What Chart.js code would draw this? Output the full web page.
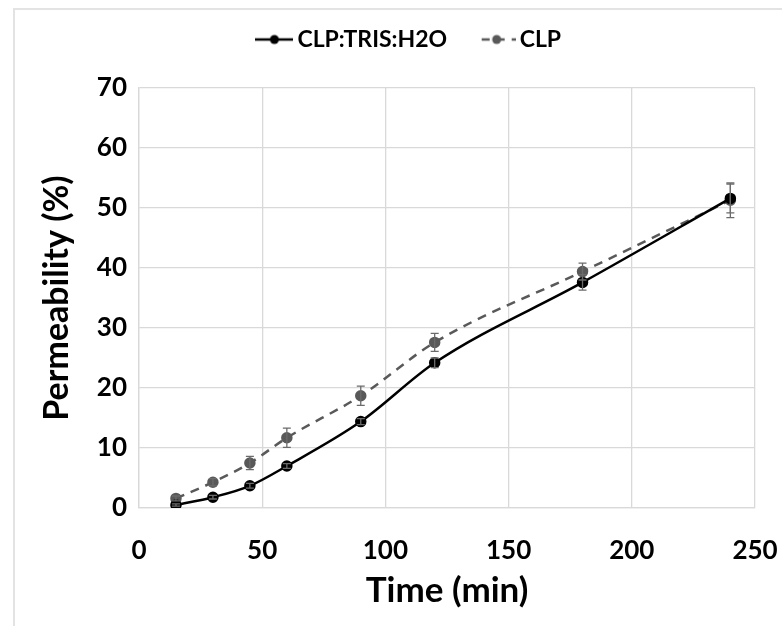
<!DOCTYPE html>
<html>
<head>
<meta charset="utf-8">
<script src="https://cdn.jsdelivr.net/npm/chart.js@4"></script>
<style>
  html, body { margin: 0; padding: 0; background: #fff; }
  #wrap { position: relative; width: 782px; height: 626px; }
  #frame { position: absolute; left: 13px; top: 8px; right: -2px; bottom: -2px;
           border-left: 2px solid #e3e3e3; border-top: 2px solid #e3e3e3; }
  canvas { position: absolute; left: 0; top: 0; }
</style>
</head>
<body>
<div id="wrap">
  <div id="frame"></div>
  <canvas id="permChart" width="782" height="626"></canvas>
</div>
<script>
// data
const times = [15, 30, 45, 60, 90, 120, 180, 240];
const trisValues = [0.5, 1.8, 3.7, 7.0, 14.4, 24.2, 37.6, 51.6];
const trisErrors = [0.2, 0.3, 0.4, 0.4, 0.5, 0.8, 1.3, 2.4];
const clpValues = [1.6, 4.3, 7.5, 11.7, 18.7, 27.6, 39.4, 51.3];
const clpErrors = [0.4, 0.6, 1.1, 1.6, 1.6, 1.5, 1.4, 2.9];
const xTicks = [0, 50, 100, 150, 200, 250];
const yTicks = [0, 10, 20, 30, 40, 50, 60, 70];

function toPoints(vals, errs) {
    return times.map(function (t, i) { return { x: t, y: vals[i], err: errs[i] }; });
}

// small legend swatch: line with a dot in the middle
function swatch(color, dashed) {
    const c = document.createElement("canvas");
    c.width = 38; c.height = 12;
    const g = c.getContext("2d");
    g.strokeStyle = color;
    g.lineWidth = 2.5;
    if (dashed) g.setLineDash([8, 7]);
    g.beginPath();
    g.moveTo(dashed ? 4 : 0, 6);
    g.lineTo(38, 6);
    g.stroke();
    g.fillStyle = color;
    g.beginPath();
    g.arc(19, 6, 4.5, 0, Math.PI * 2);
    g.fill();
    return c;
}

// draw error bars with the chart's scales
const errorBars = {
    id: "errorBars",
    afterDatasetsDraw(chart) {
        const ctx = chart.ctx;
        const ys = chart.scales.y;
        ctx.save();
        ctx.strokeStyle = "#6b6b6b";
        ctx.lineWidth = 1.3;
        chart.data.datasets.forEach(function (ds, di) {
            const meta = chart.getDatasetMeta(di);
            meta.data.forEach(function (pt, i) {
                const d = ds.data[i];
                const top = ys.getPixelForValue(d.y + d.err);
                const bot = ys.getPixelForValue(d.y - d.err);
                ctx.beginPath();
                ctx.moveTo(pt.x, top); ctx.lineTo(pt.x, bot);
                ctx.moveTo(pt.x - 4, top); ctx.lineTo(pt.x + 4, top);
                ctx.moveTo(pt.x - 4, bot); ctx.lineTo(pt.x + 4, bot);
                ctx.stroke();
            });
        });
        ctx.restore();
    }
};

// leave some room under the legend row and nudge it right
const legendGap = {
    id: "legendGap",
    afterInit(chart) {
        const lg = chart.legend;
        const fit = lg.fit;
        lg.fit = function () { fit.call(this); this.height += 27; };
    },
    afterLayout(chart) {
        chart.legend.left += 18;
        chart.legend.right += 18;
    }
};

const font = "Lato, 'Liberation Sans', sans-serif";
const swatches = [swatch("#000000", false), swatch("#595959", true)];
const ctx = document.getElementById("permChart").getContext("2d");
const permChart = new Chart(ctx, {
    type: "line",
    data: {
        datasets: [
            {
                label: "CLP:TRIS:H2O",
                data: toPoints(trisValues, trisErrors),
                borderColor: "#000000",
                backgroundColor: "#000000",
                borderWidth: 2.5,
                pointRadius: 4.5,
                pointStyle: "circle",
                cubicInterpolationMode: "monotone",
            },
            {
                label: "CLP",
                data: toPoints(clpValues, clpErrors),
                borderColor: "#595959",
                backgroundColor: "#595959",
                borderWidth: 2.5,
                borderDash: [9, 7],
                pointRadius: 4.5,
                pointStyle: "circle",
                cubicInterpolationMode: "monotone",
            },
        ],
    },
    options: {
        responsive: false,
        animation: false,
        layout: { padding: { left: 33, right: 27, top: -10, bottom: 10 } },
        plugins: {
            legend: {
                position: "top",
                labels: {
                    usePointStyle: true,
                    boxWidth: 38,
                    padding: 38,
                    color: "#000",
                    font: { family: font, size: 23, weight: "bold" },
                    generateLabels(chart) {
                        return chart.data.datasets.map(function (ds, i) {
                            return {
                                text: ds.label,
                                pointStyle: swatches[i],
                                datasetIndex: i,
                                fontColor: "#000",
                                lineWidth: 0,
                                hidden: false,
                            };
                        });
                    },
                },
            },
            tooltip: { enabled: false },
        },
        scales: {
            x: {
                type: "linear",
                min: 0,
                max: 250,
                afterBuildTicks(scale) { scale.ticks = xTicks.map(function (v) { return { value: v }; }); },
                afterFit(scale) {
                    scale.height = 108;
                    scale.paddingLeft = 0;
                    scale.paddingRight = 0;
                },
                grid: { color: "#d9d9d9", lineWidth: 1.3, drawTicks: false },
                border: { color: "#d9d9d9", width: 1.3 },
                ticks: { color: "#000", padding: 27, font: { family: font, size: 26, weight: "bold" } },
                title: { display: true, text: "Time (min)", color: "#000", padding: { top: 4, bottom: 4 },
                         font: { family: font, size: 35, weight: "bold" } },
            },
            y: {
                min: 0,
                max: 70,
                afterBuildTicks(scale) { scale.ticks = yTicks.map(function (v) { return { value: v }; }); },
                afterFit(scale) { scale.width = 106; },
                grid: { color: "#d9d9d9", lineWidth: 1.3, drawTicks: false },
                border: { color: "#d9d9d9", width: 1.3 },
                ticks: { color: "#000", padding: 12, font: { family: font, size: 26, weight: "bold" } },
                title: { display: true, text: "Permeability (%)", color: "#000",
                         font: { family: font, size: 34, weight: "bold" } },
            },
        },
    },
    plugins: [errorBars, legendGap],
});
</script>
</body>
</html>
